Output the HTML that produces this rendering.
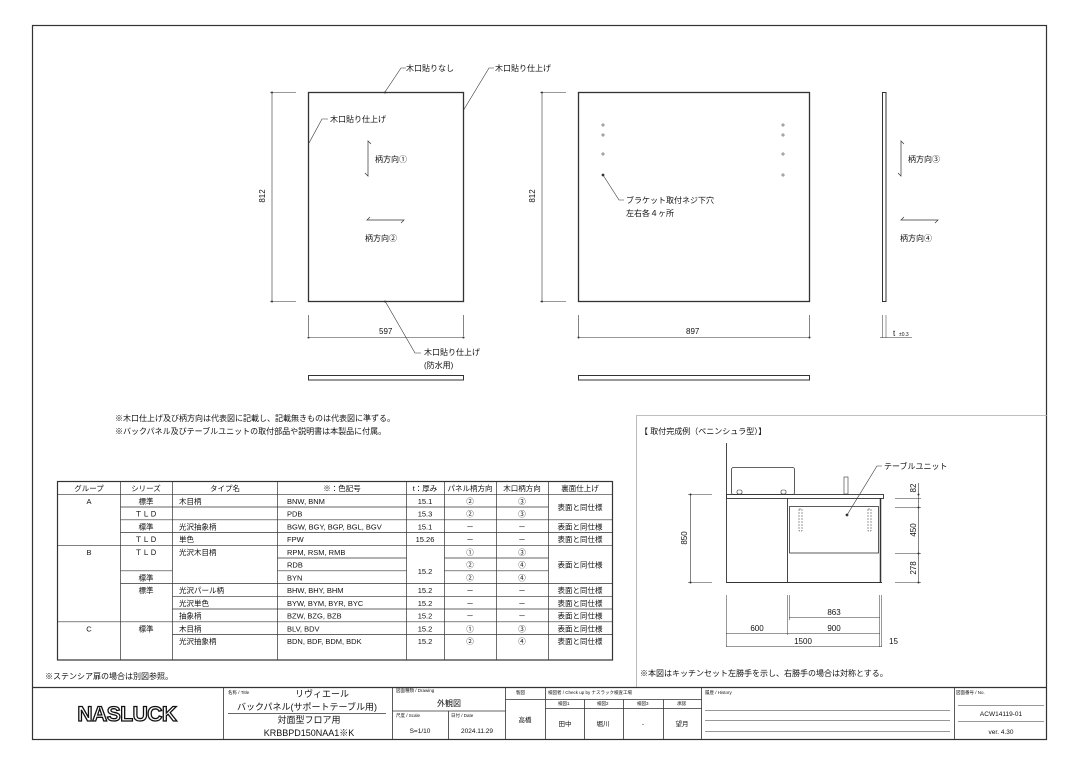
<!DOCTYPE html>
<html><head><meta charset="utf-8"><style>
html,body{margin:0;padding:0;background:#fff;}
svg{display:block;font-family:"Liberation Sans","Noto Sans CJK JP",sans-serif;}
text{fill:#111;}
.s{font-size:8px;}
.xs{font-size:4.5px;fill:#444;}
.t{font-size:7.5px;}
</style></head><body>
<svg width="1080" height="764" viewBox="0 0 1080 764" xmlns="http://www.w3.org/2000/svg">
<rect x="0" y="0" width="1080" height="764" fill="#fff"/>
<g fill="none" stroke="#333" stroke-width="1">
<rect x="32.5" y="25.5" width="1014" height="714" stroke-width="1.2"/>
<rect x="308.5" y="92.5" width="155" height="209" stroke-width="1.3"/>
<line x1="272" y1="92" x2="272" y2="301" stroke-width="0.6"/>
<line x1="270" y1="92.5" x2="296" y2="92.5" stroke-width="0.6"/>
<line x1="270" y1="301.5" x2="296" y2="301.5" stroke-width="0.6"/>
<line x1="308.5" y1="315" x2="308.5" y2="336" stroke-width="0.6"/>
<line x1="463.5" y1="315" x2="463.5" y2="336" stroke-width="0.6"/>
<line x1="308" y1="337.5" x2="464" y2="337.5" stroke-width="0.6"/>
<polyline points="385,92 401,68 406,68" stroke-width="0.6"/>
<polyline points="463,111 489,68 494,68" stroke-width="0.6"/>
<polyline points="309,143 322,119 328,119" stroke-width="0.6"/>
<polyline points="385,301 415,353 421,353" stroke-width="0.6"/>
<polyline points="371,144 368,141 368,176 365,173" stroke-width="0.7"/>
<polyline points="370,217 367,220 404,220 401,223" stroke-width="0.7"/>
<rect x="308.5" y="375.5" width="155" height="4.5" stroke-width="1"/>
<rect x="578.5" y="92.5" width="231" height="209" stroke-width="1.3"/>
<line x1="542" y1="92" x2="542" y2="301" stroke-width="0.6"/>
<line x1="540" y1="92.5" x2="566" y2="92.5" stroke-width="0.6"/>
<line x1="540" y1="301.5" x2="566" y2="301.5" stroke-width="0.6"/>
<line x1="578.5" y1="315" x2="578.5" y2="338" stroke-width="0.6"/>
<line x1="809.5" y1="315" x2="809.5" y2="338" stroke-width="0.6"/>
<line x1="578" y1="337.5" x2="810" y2="337.5" stroke-width="0.6"/>
<polyline points="603,175 619,200 624,200" stroke-width="0.6"/>
<rect x="578.5" y="375.5" width="231" height="4.5" stroke-width="1"/>
<g stroke-width="0.5">
<path d="M601 125h4M603 123v4M601 135h4M603 133v4M601 154h4M603 152v4M781 125h4M783 123v4M781 135h4M783 133v4M781 154h4M783 152v4M781 175h4M783 173v4"/>
</g>
<circle cx="603" cy="175" r="0.9" fill="#333"/>
<rect x="882.5" y="92.5" width="3.5" height="209" stroke-width="1"/>
<polyline points="904,144 901,141 901,176 898,173" stroke-width="0.7"/>
<polyline points="904,217 901,220 938,220 935,223" stroke-width="0.7"/>
<line x1="882.5" y1="315" x2="882.5" y2="338" stroke-width="0.5"/>
<line x1="886" y1="315" x2="886" y2="338" stroke-width="0.5"/>
<line x1="880" y1="337.5" x2="912" y2="337.5" stroke-width="0.5"/>
<polyline points="636.5,687 636.5,415.5 1047,415.5" stroke="#aaa" stroke-width="0.8"/>
<line x1="726.5" y1="443" x2="726.5" y2="582" stroke-width="0.9"/>
<rect x="726.5" y="494.5" width="157" height="4" stroke-width="0.9"/>
<rect x="731.5" y="467.5" width="63" height="27" rx="2" stroke-width="0.8"/>
<rect x="737" y="490" width="5" height="4" rx="1.5" stroke-width="0.6"/>
<rect x="781" y="490" width="5" height="4" rx="1.5" stroke-width="0.6"/>
<line x1="787.5" y1="498" x2="787.5" y2="582" stroke-width="0.9"/>
<line x1="726" y1="582.5" x2="882" y2="582.5" stroke-width="1"/>
<rect x="789.5" y="506.5" width="89" height="46.5" stroke-width="0.8"/>
<line x1="880.5" y1="498" x2="880.5" y2="582" stroke-width="1.5"/>
<rect x="844" y="477" width="4" height="17" stroke-width="0.6"/>
<rect x="799" y="509" width="3" height="22" stroke-width="0.5" stroke-dasharray="2 1"/>
<rect x="868" y="509" width="3" height="22" stroke-width="0.5" stroke-dasharray="2 1"/>
<polyline points="847,515 877,466 882,466" stroke-width="0.6"/>
<circle cx="847" cy="515" r="0.9" fill="#333"/>
<line x1="690.5" y1="494" x2="690.5" y2="582" stroke-width="0.6"/>
<line x1="688" y1="494.5" x2="712" y2="494.5" stroke-width="0.5"/>
<line x1="688" y1="582.5" x2="712" y2="582.5" stroke-width="0.5"/>
<line x1="918.5" y1="483" x2="918.5" y2="582" stroke-width="0.6"/>
<line x1="895" y1="498.5" x2="921" y2="498.5" stroke-width="0.5"/>
<line x1="895" y1="507.5" x2="921" y2="507.5" stroke-width="0.5"/>
<line x1="895" y1="553.5" x2="921" y2="553.5" stroke-width="0.5"/>
<line x1="895" y1="582.5" x2="921" y2="582.5" stroke-width="0.5"/>
<line x1="726.5" y1="595" x2="726.5" y2="647" stroke-width="0.5"/>
<line x1="787.5" y1="595" x2="787.5" y2="635" stroke-width="0.5"/>
<line x1="789.5" y1="595" x2="789.5" y2="620" stroke-width="0.5"/>
<line x1="879.5" y1="595" x2="879.5" y2="647" stroke-width="0.5"/>
<line x1="881.5" y1="595" x2="881.5" y2="647" stroke-width="0.5"/>
<line x1="789" y1="617.5" x2="880" y2="617.5" stroke-width="0.5"/>
<line x1="726" y1="633.5" x2="880" y2="633.5" stroke-width="0.5"/>
<line x1="726" y1="646.5" x2="882" y2="646.5" stroke-width="0.5"/>
</g>
<g fill="#333">
<circle cx="272" cy="92.5" r="1"/><circle cx="272" cy="301.5" r="1"/>
<circle cx="542" cy="92.5" r="1"/><circle cx="542" cy="301.5" r="1"/>
<circle cx="308.5" cy="337.5" r="1"/><circle cx="463.5" cy="337.5" r="1"/>
<circle cx="578.5" cy="337.5" r="1"/><circle cx="809.5" cy="337.5" r="1"/>
<circle cx="385" cy="92.5" r="1"/><circle cx="385" cy="301.5" r="1"/>
<circle cx="690.5" cy="494.5" r="1"/><circle cx="690.5" cy="582.5" r="1"/>
<circle cx="918.5" cy="494.5" r="1"/><circle cx="918.5" cy="507.5" r="1"/><circle cx="918.5" cy="553.5" r="1"/><circle cx="918.5" cy="582.5" r="1"/>
</g>
<g class="s">
<text x="406" y="71">木口貼りなし</text>
<text x="495" y="71">木口貼り仕上げ</text>
<text x="330" y="122">木口貼り仕上げ</text>
<text x="375" y="162">柄方向①</text>
<text x="365" y="241">柄方向②</text>
<text x="424" y="355">木口貼り仕上げ</text>
<text x="424" y="368">(防水用)</text>
<text x="379" y="334">597</text>
<text x="686" y="334">897</text>
<text x="626" y="203">ブラケット取付ネジ下穴</text>
<text x="626" y="216">左右各４ヶ所</text>
<text x="908" y="162">柄方向③</text>
<text x="900" y="241">柄方向④</text>
<text x="893" y="336">t</text>
<text x="899" y="336" font-size="5">±0.3</text>
<text transform="translate(265,196) rotate(-90)" text-anchor="middle">812</text>
<text transform="translate(535,196) rotate(-90)" text-anchor="middle">812</text>
<text x="115" y="421">※木口仕上げ及び柄方向は代表図に記載し、記載無きものは代表図に準ずる。</text>
<text x="115" y="434">※バックパネル及びテーブルユニットの取付部品や説明書は本製品に付属。</text>
<text x="640" y="434">【 取付完成例（ペニンシュラ型）】</text>
<text x="884" y="469">テーブルユニット</text>
<text transform="translate(687,538) rotate(-90)" text-anchor="middle">850</text>
<text transform="translate(916,488) rotate(-90)" text-anchor="middle">82</text>
<text transform="translate(916,530) rotate(-90)" text-anchor="middle">450</text>
<text transform="translate(916,568) rotate(-90)" text-anchor="middle">278</text>
<text x="834" y="615" text-anchor="middle">863</text>
<text x="757" y="631" text-anchor="middle">600</text>
<text x="834" y="631" text-anchor="middle">900</text>
<text x="803" y="644" text-anchor="middle">1500</text>
<text x="889" y="644">15</text>
<text x="640" y="676">※本図はキッチンセット左勝手を示し、右勝手の場合は対称とする。</text>
<text x="45" y="679">※ステンシア扉の場合は別図参照。</text>
</g>
<g stroke="#333" stroke-width="0.7" fill="none">
<rect x="57.5" y="481.5" width="555" height="178.5" stroke-width="1.2"/>
<path d="M120.5 481.5V660M172.5 481.5V660M277.5 481.5V660M406.5 481.5V660M444.5 481.5V660M496.5 481.5V660M548.5 481.5V660"/>
<path d="M57.5 494.3H612.5"/>
<path d="M120.5 507H548.5"/>
<path d="M120.5 519.8H612.5"/>
<path d="M120.5 532.5H612.5"/>
<path d="M57.5 545.3H612.5"/>
<path d="M277.5 558H406.5M444.5 558H548.5"/>
<path d="M120.5 570.8H172.5M277.5 570.8H406.5M444.5 570.8H548.5"/>
<path d="M120.5 583.5H612.5"/>
<path d="M172.5 596.3H612.5"/>
<path d="M172.5 609H612.5"/>
<path d="M57.5 621.8H612.5"/>
<path d="M172.5 634.5H612.5"/>
</g>
<g class="t" text-anchor="middle">
<text x="89" y="491">グループ</text><text x="146" y="491">シリーズ</text><text x="225" y="491">タイプ名</text><text x="342" y="491">※：色記号</text><text x="425" y="491">t：厚み</text><text x="470" y="491">パネル柄方向</text><text x="522" y="491">木口柄方向</text><text x="580" y="491">裏面仕上げ</text>
<text x="89" y="504">A</text><text x="146" y="504">標準</text><text x="146" y="516.5">ＴＬＤ</text><text x="146" y="529.5">標準</text><text x="146" y="542">ＴＬＤ</text>
<text x="89" y="555">B</text><text x="146" y="555">ＴＬＤ</text><text x="146" y="580.5">標準</text><text x="146" y="593">標準</text>
<text x="89" y="631.5">C</text><text x="146" y="631.5">標準</text>
<text x="425" y="504">15.1</text><text x="425" y="516.5">15.3</text><text x="425" y="529.5">15.1</text><text x="425" y="542">15.26</text><text x="425" y="574">15.2</text><text x="425" y="593">15.2</text><text x="425" y="606">15.2</text><text x="425" y="618.5">15.2</text><text x="425" y="631.5">15.2</text><text x="425" y="644">15.2</text>
<text x="470" y="504">②</text><text x="522" y="504">③</text>
<text x="470" y="516.5">②</text><text x="522" y="516.5">③</text>
<text x="470" y="529.5">－</text><text x="522" y="529.5">－</text>
<text x="470" y="542">－</text><text x="522" y="542">－</text>
<text x="470" y="555">①</text><text x="522" y="555">③</text>
<text x="470" y="567.5">②</text><text x="522" y="567.5">④</text>
<text x="470" y="580.5">②</text><text x="522" y="580.5">④</text>
<text x="470" y="593">－</text><text x="522" y="593">－</text>
<text x="470" y="606">－</text><text x="522" y="606">－</text>
<text x="470" y="618.5">－</text><text x="522" y="618.5">－</text>
<text x="470" y="631.5">①</text><text x="522" y="631.5">③</text>
<text x="470" y="644">②</text><text x="522" y="644">④</text>
<text x="580" y="510">表面と同仕様</text><text x="580" y="529.5">表面と同仕様</text><text x="580" y="542">表面と同仕様</text><text x="580" y="567.5">表面と同仕様</text><text x="580" y="593">表面と同仕様</text><text x="580" y="606">表面と同仕様</text><text x="580" y="618.5">表面と同仕様</text><text x="580" y="631.5">表面と同仕様</text><text x="580" y="644">表面と同仕様</text>
</g>
<g class="t" font-size="7">
<text x="179" y="504">木目柄</text><text x="179" y="529.5">光沢抽象柄</text><text x="179" y="542">単色</text><text x="179" y="555">光沢木目柄</text><text x="179" y="593">光沢パール柄</text><text x="179" y="606">光沢単色</text><text x="179" y="618.5">抽象柄</text><text x="179" y="631.5">木目柄</text><text x="179" y="644">光沢抽象柄</text>
<text x="287" y="504">BNW, BNM</text><text x="287" y="516.5">PDB</text><text x="287" y="529.5">BGW, BGY, BGP, BGL, BGV</text><text x="287" y="542">FPW</text><text x="287" y="555">RPM, RSM, RMB</text><text x="287" y="567.5">RDB</text><text x="287" y="580.5">BYN</text><text x="287" y="593">BHW, BHY, BHM</text><text x="287" y="606">BYW, BYM, BYR, BYC</text><text x="287" y="618.5">BZW, BZG, BZB</text><text x="287" y="631.5">BLV, BDV</text><text x="287" y="644">BDN, BDF, BDM, BDK</text>
</g>
<g stroke="#333" fill="none" stroke-width="0.8">
<line x1="32" y1="687.5" x2="1047" y2="687.5" stroke-width="1.2"/>
<path d="M223.5 687.5V740M392.5 687.5V740M505.5 687.5V740M545.5 687.5V740M701.5 687.5V740M954.5 687.5V740"/>
<path d="M228 713.5H386" stroke-width="0.7"/>
<path d="M392.5 711H505.5M448.5 711V740"/>
<path d="M505.5 699.5H545.5M545.5 699.5H701.5M545.5 708.5H701.5M584.5 699.5V740M623.5 699.5V740M663.5 699.5V740"/>
<path d="M705 710.5H950M705 720.5H950M705 731.5H950" stroke-width="0.6"/>
<path d="M958 705.5H1044M958 721.5H1044" stroke-width="0.6"/>
</g>
<text x="127" y="721" text-anchor="middle" font-size="21" font-weight="bold" style="fill:#fff;stroke:#111;stroke-width:1.3px" letter-spacing="-0.5">NASLUCK</text>
<g class="xs"><text x="228" y="694">名称 / Title</text><text x="396" y="692">図面種類 / Drawing</text><text x="396" y="717">尺度 / Scale</text><text x="451" y="717">日付 / Date</text><text x="516" y="694">製図</text><text x="548" y="694">検図者 / Check up by ナスラック検査工場</text><text x="705" y="694">履歴 / History</text><text x="956" y="694">図面番号 / No.</text>
<text x="558" y="705">検図1</text><text x="597" y="705">検図2</text><text x="637" y="705">検図3</text><text x="677" y="705">承認</text></g>
<g font-size="9" text-anchor="middle">
<text x="322" y="697">リヴィエール</text>
<text x="307" y="710">バックパネル(サポートテーブル用)</text>
<text x="309" y="723">対面型フロア用</text>
<text x="309" y="736">KRBBPD150NAA1※K</text>
<text x="449" y="706" font-size="8">外観図</text>
</g>
<g font-size="6.5" text-anchor="middle">
<text x="420" y="733">S=1/10</text><text x="477" y="733">2024.11.29</text>
<text x="525" y="722">高橋</text><text x="565" y="726">田中</text><text x="603" y="726">堀川</text><text x="643" y="726">-</text><text x="682" y="726">望月</text>
<text x="1001" y="716">ACW14119-01</text><text x="1001" y="734">ver. 4.30</text>
</g>
</svg>
</body></html>
